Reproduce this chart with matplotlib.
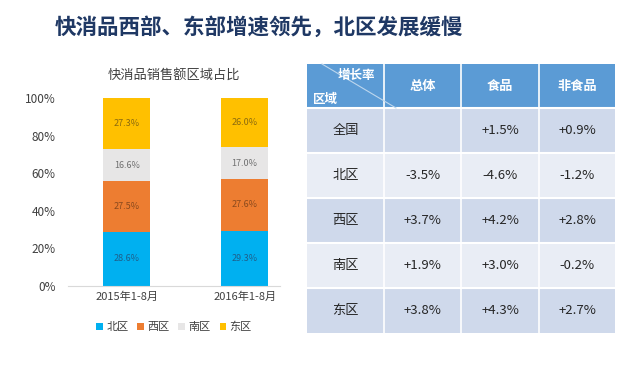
import matplotlib.pyplot as plt
from matplotlib.patches import Rectangle

plt.rcParams['font.family'] = ['Noto Sans CJK SC', 'DejaVu Sans']

# chart data
years = ['2015年1-8月', '2016年1-8月']
regions = ['北区', '西区', '南区', '东区']
shares = {
    '北区': [28.6, 29.3],
    '西区': [27.5, 27.6],
    '南区': [16.6, 17.0],
    '东区': [27.3, 26.0],
}
bar_colors = ['#00B0F0', '#ED7D31', '#E7E6E6', '#FFC000']
label_colors = ['#1F5F8B', '#8A4A1E', '#707070', '#8A6A10']

# table data
table_cols = ['总体', '食品', '非食品']
table_rows = ['全国', '北区', '西区', '南区', '东区']
table_vals = [
    ['', '+1.5%', '+0.9%'],
    ['-3.5%', '-4.6%', '-1.2%'],
    ['+3.7%', '+4.2%', '+2.8%'],
    ['+1.9%', '+3.0%', '-0.2%'],
    ['+3.8%', '+4.3%', '+2.7%'],
]

W, H = 634, 365
fig = plt.figure(figsize=(W / 100, H / 100), dpi=100)
fig.patch.set_facecolor('white')

fig.text(55 / W, 1 - 27 / H, '快消品西部、东部增速领先，北区发展缓慢',
         fontsize=15.5, fontweight='bold', color='#1F3864', va='center', ha='left')

# stacked bar chart
ax = fig.add_axes([68 / W, (H - 285.7) / H, 212 / W, 187.4 / H])
x = range(len(years))
bottom = [0.0] * len(years)
for i, r in enumerate(regions):
    vals = [v / 100 for v in shares[r]]
    ax.bar(x, vals, 0.4, bottom=bottom, color=bar_colors[i], label=r)
    for j, v in enumerate(vals):
        ax.text(j, bottom[j] + v / 2, f'{shares[r][j]:.1f}%', ha='center', va='center',
                fontsize=6.5, color=label_colors[i])
    bottom = [b + v for b, v in zip(bottom, vals)]
ax.set_ylim(0, 1)
ax.set_xlim(-0.5, 1.3)
ax.set_yticks([0, 0.2, 0.4, 0.6, 0.8, 1.0])
ax.set_yticklabels(['0%', '20%', '40%', '60%', '80%', '100%'], fontsize=8.5, color='#404040')
ax.set_xticks(list(x))
ax.set_xticklabels(years, fontsize=8, color='#404040')
for s in ['top', 'right', 'left']:
    ax.spines[s].set_visible(False)
ax.spines['bottom'].set_color('#D9D9D9')
ax.tick_params(axis='x', length=0, pad=4)
ax.tick_params(axis='y', length=0, pad=9)
ax.set_title('快消品销售额区域占比', fontsize=9.5, color='#404040', pad=14)
leg = ax.legend(loc='upper center', bbox_to_anchor=(0.5, -0.14), ncol=4, frameon=False,
                fontsize=8, handlelength=0.6, handleheight=0.6, handletextpad=0.3,
                columnspacing=0.8, labelcolor='#404040')

# table drawn in pixel coordinates
tx = fig.add_axes([0, 0, 1, 1])
tx.set_xlim(0, W)
tx.set_ylim(H, 0)
tx.axis('off')
col_x = [307, 384, 461, 539, 615]
row_y = [64, 108, 153, 198, 243, 288, 333]
tx.add_patch(Rectangle((col_x[0], row_y[0]), col_x[-1] - col_x[0], row_y[1] - row_y[0],
                       facecolor='#5B9BD5', edgecolor='none'))
for i in range(len(table_rows)):
    c = '#CFD9EB' if i % 2 == 0 else '#E9EDF5'
    tx.add_patch(Rectangle((col_x[0], row_y[i + 1]), col_x[-1] - col_x[0],
                           row_y[i + 2] - row_y[i + 1], facecolor=c, edgecolor='none'))
for cx in col_x[1:-1]:
    tx.plot([cx, cx], [row_y[0], row_y[-1]], color='white', lw=1.2)
for ry in row_y[1:-1]:
    tx.plot([col_x[0], col_x[-1]], [ry, ry], color='white', lw=1.5)
tx.plot([322, 396], [row_y[0], row_y[1]], color='#BDD7EE', lw=0.8)
tx.text(356, 75, '增长率', fontsize=9, fontweight='bold', color='white', ha='center', va='center')
tx.text(325, 99, '区域', fontsize=9, fontweight='bold', color='white', ha='center', va='center')
for j, name in enumerate(table_cols):
    tx.text((col_x[j + 1] + col_x[j + 2]) / 2, 86, name, fontsize=9.5, fontweight='bold',
            color='white', ha='center', va='center')
for i, name in enumerate(table_rows):
    yc = (row_y[i + 1] + row_y[i + 2]) / 2
    tx.text((col_x[0] + col_x[1]) / 2, yc, name, fontsize=9.5, color='#262626',
            ha='center', va='center')
    for j, v in enumerate(table_vals[i]):
        tx.text((col_x[j + 1] + col_x[j + 2]) / 2, yc, v, fontsize=9.5, color='#262626',
                ha='center', va='center')

fig.savefig('out.png', dpi=100)
